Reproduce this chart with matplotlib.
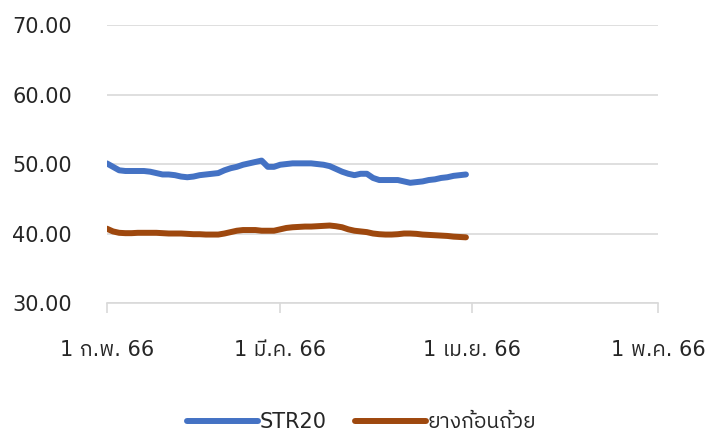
import datetime as dt
import matplotlib
matplotlib.use("Agg")
import matplotlib.pyplot as plt
from matplotlib import font_manager
from matplotlib.ft2font import FT2Font

# daily prices from 1 Feb 2023 (1 ก.พ. 66)
str20 = [50.1, 49.6, 49.1, 49.0, 49.0, 49.0, 49.0, 48.9, 48.7, 48.5,
         48.5, 48.4, 48.2, 48.1, 48.2, 48.4, 48.5, 48.6, 48.7, 49.1,
         49.4, 49.6, 49.9, 50.1, 50.3, 50.5, 49.6, 49.6, 49.9, 50.0,
         50.1, 50.1, 50.1, 50.1, 50.0, 49.9, 49.7, 49.3, 48.9, 48.6,
         48.4, 48.6, 48.6, 48.0, 47.7, 47.7, 47.7, 47.7, 47.5, 47.3,
         47.4, 47.5, 47.7, 47.8, 48.0, 48.1, 48.3, 48.4, 48.5]
cup_lump = [40.7, 40.3, 40.1, 40.05, 40.05, 40.1, 40.1, 40.1, 40.1, 40.05,
            40.0, 40.0, 40.0, 39.95, 39.9, 39.9, 39.85, 39.85, 39.85, 40.0,
            40.2, 40.4, 40.5, 40.5, 40.5, 40.4, 40.4, 40.4, 40.6, 40.8,
            40.9, 40.95, 41.0, 41.0, 41.05, 41.1, 41.15, 41.05, 40.9, 40.6,
            40.4, 40.3, 40.2, 40.0, 39.9, 39.85, 39.85, 39.9, 40.0, 40.0,
            39.95, 39.85, 39.8, 39.75, 39.7, 39.65, 39.55, 39.5, 39.45]
start = dt.date(2023, 2, 1)
days = [start + dt.timedelta(days=i) for i in range(len(str20))]

tick_dates = [dt.date(2023, 2, 1), dt.date(2023, 3, 1), dt.date(2023, 4, 1), dt.date(2023, 5, 1)]
tick_labels = ["1 ก.พ. 66", "1 มี.ค. 66", "1 เม.ย. 66", "1 พ.ค. 66"]
y_ticks = [30, 40, 50, 60, 70]
series_names = ["STR20", "ยางก้อนถ้วย"]

# look for a font that has Thai glyphs
thai_font = None
for f in font_manager.fontManager.ttflist:
    try:
        if FT2Font(f.fname).get_char_index(ord("ก")):
            thai_font = f.name
            if "Tahoma" in f.name or "Sans" in f.name:
                break
    except Exception:
        pass
fams = ["DejaVu Sans"] + ([thai_font] if thai_font else [])
plt.rcParams["font.family"] = fams

txt = "#262626"
fs = 15
fig = plt.figure(figsize=(7.12, 4.41), dpi=100)
ax = fig.add_axes([0.150, 0.313, 0.774, 0.630])

l1, = ax.plot(days, str20, color="#4472C4", lw=4.3, solid_capstyle="round")
l2, = ax.plot(days, cup_lump, color="#9E480E", lw=4.3, solid_capstyle="round")

ax.set_ylim(30, 70)
ax.set_yticks(y_ticks)
ax.set_yticklabels([f"{v:.2f}" for v in y_ticks])
ax.set_xlim(tick_dates[0], tick_dates[-1])
ax.set_xticks(tick_dates)
ax.set_xticklabels(tick_labels)

ax.grid(axis="y", color="#d9d9d9", lw=1.2)
ax.set_axisbelow(True)
for s in ["left", "right", "top"]:
    ax.spines[s].set_visible(False)
ax.spines["bottom"].set_color("#d9d9d9")
ax.spines["bottom"].set_linewidth(1.2)
ax.tick_params(axis="y", length=0, pad=25, labelsize=fs, labelcolor=txt)
ax.tick_params(axis="x", length=7, width=1.2, color="#d9d9d9", pad=20,
               labelsize=fs, labelcolor=txt)

fig.legend([l1, l2], series_names, loc="center", bbox_to_anchor=(0.508, 0.043),
           ncol=2, frameon=False, fontsize=fs, handlelength=3.4,
           handletextpad=0.05, columnspacing=1.4, labelcolor=txt)

fig.savefig("out.png", dpi=100)
